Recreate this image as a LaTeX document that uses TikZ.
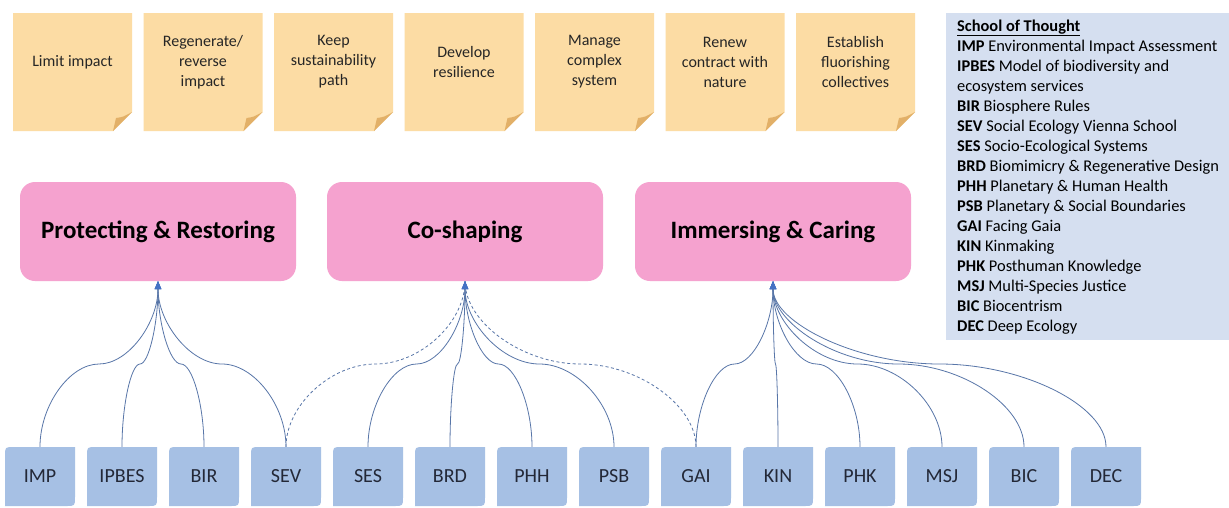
\documentclass[tikz,border=0pt]{standalone}
\usepackage{fontspec}
\setmainfont{Carlito}
\usetikzlibrary{arrows.meta,calc}
\definecolor{notefill}{RGB}{252,220,164}
\definecolor{notefold}{RGB}{226,176,104}
\definecolor{pinkfill}{RGB}{245,162,207}
\definecolor{bluefill}{RGB}{166,192,228}
\definecolor{legendbg}{RGB}{213,223,240}
\definecolor{conncol}{RGB}{88,118,168}
\definecolor{arrowcol}{RGB}{68,114,196}
\definecolor{txtdark}{RGB}{38,38,38}
\definecolor{txtblue}{RGB}{35,40,55}
\tikzset{
  notetext/.style={align=center, inner sep=0pt, text=txtdark, font=\fontsize{16}{20}\selectfont},
  pinkbox/.style={fill=pinkfill, rounded corners=15pt, minimum width=276pt, minimum height=99pt, inner sep=0pt, font=\fontsize{25}{29}\selectfont\bfseries, text=black},
  schoolbox/.style={minimum width=70pt, minimum height=59pt, inner sep=0pt, text=txtblue, font=\fontsize{20}{24}\selectfont,
    path picture={\fill[bluefill] let \p1=(path picture bounding box.south west), \p2=(path picture bounding box.north east) in
      (\x1,\y1) -- ({\x1},{\y2-9pt}) .. controls (\x1,\y2) .. ({\x1+9pt},{\y2}) -- (\x2,\y2) -- ({\x2},{\y1+9pt}) .. controls (\x2,\y1) .. ({\x2-9pt},{\y1}) -- cycle;}},
  legendline/.style={anchor=base west, inner sep=0pt, text=black, font=\fontsize{16.4}{20}\selectfont},
  connline/.style={draw=conncol, line width=0.8pt},
  connarrow/.style={connline, -{Triangle[length=8pt,width=6.5pt,fill=arrowcol,color=arrowcol]}},
  conndash/.style={connline, dash pattern=on 3pt off 2.5pt},
}
\newcommand\curveconn[3][connarrow]{%
  \draw[#1] let \p1=(#2.north), \p2=(#3.south) in
    (\p1) .. controls (\x1,{(3*\y1+\y2)/4}) and ({(3*\x1+\x2)/4},{(\y1+\y2)/2}) ..
    ({(\x1+\x2)/2},{(\y1+\y2)/2}) .. controls ({(\x1+3*\x2)/4},{(\y1+\y2)/2}) and (\x2,{(\y1+3*\y2)/4}) .. (\p2);}
\begin{document}
\begin{tikzpicture}[x=1pt,y=-1pt]
\useasboundingbox[fill=white] (0,0) rectangle (1229,507);

% sticky notes
\foreach \t [count=\i from 0] in {Limit impact, Regenerate/\\reverse\\impact, Keep\\sustainability\\path, Develop\\resilience, Manage\\complex\\system, Renew\\contract with\\nature, Establish\\fluorishing\\collectives}{
  \pgfmathsetmacro\xa{13+130.5*\i}
  \fill[notefill] (\xa,13) -- (\xa+119,13) -- (\xa+119,112) -- (\xa+100,131) -- (\xa,131) -- cycle;
  \fill[notefold] (\xa+100,131) .. controls (\xa+102,125) .. (\xa+103,118) .. controls (\xa+110,117) .. (\xa+119,112) -- cycle;
  \node[notetext] (note\i) at (\xa+59.5,62) {\t};
}

% legend
\node[fill=legendbg, minimum width=283pt, minimum height=327pt, inner sep=0pt, anchor=north west] (legend) at (946,13) {};
\foreach \t [count=\i from 0] in {
  \underline{\textbf{School of Thought}},
  \textbf{IMP} Environmental Impact Assessment,
  \textbf{IPBES} Model of biodiversity and,
  ecosystem services,
  \textbf{BIR} Biosphere Rules,
  \textbf{SEV} Social Ecology Vienna School,
  \textbf{SES} Socio-Ecological Systems,
  \textbf{BRD} Biomimicry \& Regenerative Design,
  \textbf{PHH} Planetary \& Human Health,
  \textbf{PSB} Planetary \& Social Boundaries,
  \textbf{GAI} Facing Gaia,
  \textbf{KIN} Kinmaking,
  \textbf{PHK} Posthuman Knowledge,
  \textbf{MSJ} Multi-Species Justice,
  \textbf{BIC} Biocentrism,
  \textbf{DEC} Deep Ecology}{
  \node[legendline] (leg\i) at (957,{31.5+20*\i}) {\t};
}

% categories
\node[pinkbox] (pr) at (158,231.5) {Protecting \& Restoring};
\node[pinkbox] (cs) at (465,231.5) {Co-shaping};
\node[pinkbox] (ic) at (773,231.5) {Immersing \& Caring};

% schools
\foreach \nm [count=\i from 0] in {IMP,IPBES,BIR,SEV,SES,BRD,PHH,PSB,GAI,KIN,PHK,MSJ,BIC,DEC}{
  \node[schoolbox] (\nm) at ({40+82*\i},476.5) {\nm};
}

% connectors
\curveconn[conndash]{SEV}{cs}
\curveconn[conndash]{GAI}{cs}
\foreach \s in {IMP,IPBES,BIR,SEV}{\curveconn{\s}{pr}}
\foreach \s in {SES,BRD,PHH,PSB}{\curveconn{\s}{cs}}
\foreach \s in {GAI,KIN,PHK,MSJ,BIC,DEC}{\curveconn{\s}{ic}}
\end{tikzpicture}
\end{document}
